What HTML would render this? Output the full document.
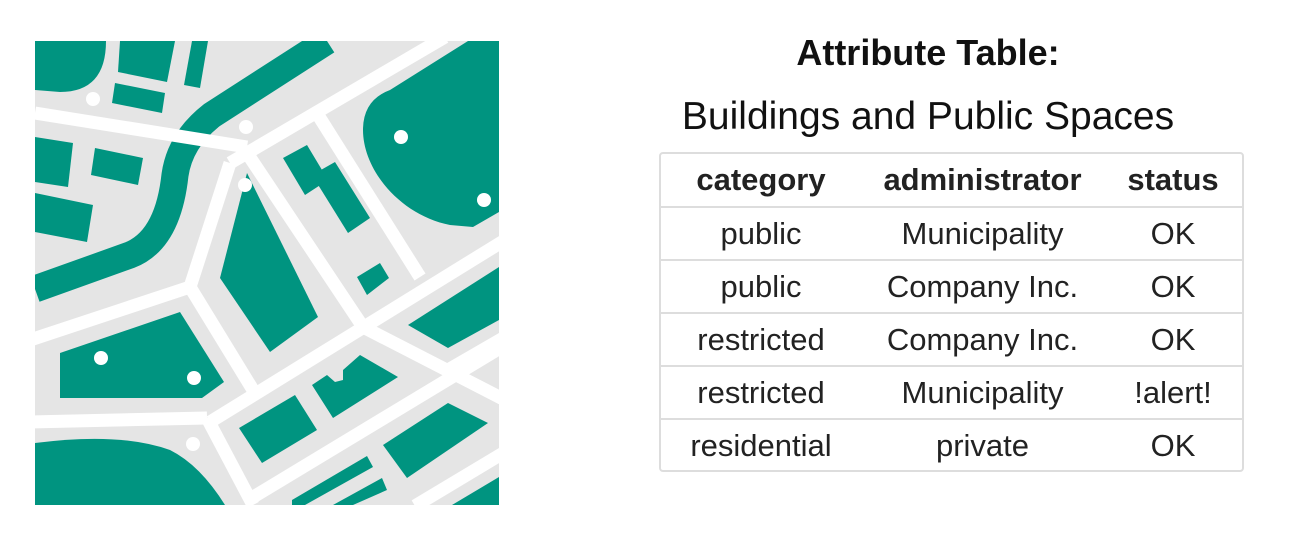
<!DOCTYPE html>
<html><head><meta charset="utf-8"><style>
body{margin:0;width:1295px;height:549px;background:#fff;overflow:hidden;position:relative;font-family:"Liberation Sans",sans-serif;color:#222}
#title{position:absolute;left:660px;width:536px;top:32px;text-align:center;font-weight:bold;font-size:36px;color:#111}
#sub{position:absolute;left:600px;width:656px;top:95px;text-align:center;font-size:39px;color:#111}
#tbl{position:absolute;left:659px;top:152px;width:581px;height:316px;border:2px solid #ddd;border-radius:4px;box-sizing:content-box}
.row{height:53px;display:flex;border-top:2px solid #ddd;box-sizing:border-box;align-items:center;font-size:31px}
.row:first-child{border-top:none;height:52px;font-weight:bold}
.c1{width:200px;text-align:center}.c2{width:243px;text-align:center}.c3{width:138px;text-align:center}
</style></head><body>
<svg width="520" height="549" style="position:absolute;left:0;top:0">
<defs><clipPath id="cp"><rect x="35" y="41" width="464" height="464"/></clipPath></defs>
<g clip-path="url(#cp)">
<rect x="35" y="41" width="464" height="464" fill="#e5e5e5"/>
<path d="M327,41 L212,115 Q180,140 175,175 Q168,240 130,255 L35,289" fill="none" stroke="#009480" stroke-width="27"/>
<g stroke="#fff" stroke-width="13" fill="none">
<line x1="35" y1="113" x2="247" y2="147"/>
<line x1="230" y1="163" x2="445" y2="37"/>
<line x1="230" y1="163" x2="190" y2="287"/>
<line x1="30" y1="340" x2="190" y2="287"/>
<line x1="190" y1="287" x2="253" y2="390"/>
<line x1="245" y1="150" x2="363" y2="327"/>
<line x1="318" y1="115" x2="420" y2="277"/>
<line x1="210" y1="422" x2="505" y2="240"/>
<line x1="30" y1="422" x2="207" y2="418"/>
<line x1="207" y1="418" x2="253" y2="505"/>
<line x1="363" y1="327" x2="505" y2="400"/>
<line x1="245" y1="502" x2="505" y2="345"/>
<line x1="415" y1="506" x2="505" y2="452"/>
<line x1="448" y1="370" x2="505" y2="337"/>
</g>
<g fill="#009480">
<path d="M35,41 H106 Q106,92 60,92 L35,90 Z"/>
<polygon points="120,41 118,72 167,82 175,41"/>
<polygon points="192,41 208,41 200,88 184,85"/>
<polygon points="115,83 165,93 162,113 112,103"/>
<polygon points="35,137 73,143 68,187 35,182"/>
<polygon points="95,148 143,158 138,185 91,175"/>
<polygon points="35,193 93,205 87,242 35,232"/>
<path d="M390,90 L468,41 H499 V212 L473,227 L450,225 C400,215 363,170 363,130 Q363,100 390,90 Z"/>
<polygon points="283,158 307,145 328,180 305,195"/>
<polygon points="312,175 335,162 370,218 348,233"/>
<polygon points="357,277 380,263 389,278 367,295"/>
<polygon points="247,173 318,317 270,352 220,278"/>
<polygon points="408,325 499,267 499,320 448,348"/>
<polygon points="60,353 180,312 224,382 202,398 60,398"/>
<polygon points="239,428 295,395 317,430 262,463"/>
<polygon points="312,385 327,375 335,382 343,380 343,370 360,355 398,377 333,418"/>
<polygon points="383,445 448,403 488,423 407,478"/>
<polygon points="292,500 367,456 373,467 305,505 292,505"/>
<polygon points="333,505 382,478 387,490 353,505"/>
<polygon points="452,505 499,477 499,505"/>
<path d="M35,443 Q120,432 170,450 Q200,465 225,505 H35 Z"/>
</g>
<g fill="#fff">
<circle cx="93" cy="99" r="7"/><circle cx="246" cy="127" r="7"/><circle cx="245" cy="185" r="7"/>
<circle cx="401" cy="137" r="7"/><circle cx="484" cy="200" r="7"/><circle cx="101" cy="358" r="7"/>
<circle cx="194" cy="378" r="7"/><circle cx="193" cy="444" r="7"/>
</g>
</g>
</svg>
<div id="title">Attribute Table:</div>
<div id="sub">Buildings and Public Spaces</div>
<div id="tbl">
<div class="row"><div class="c1">category</div><div class="c2">administrator</div><div class="c3">status</div></div>
<div class="row"><div class="c1">public</div><div class="c2">Municipality</div><div class="c3">OK</div></div>
<div class="row"><div class="c1">public</div><div class="c2">Company Inc.</div><div class="c3">OK</div></div>
<div class="row"><div class="c1">restricted</div><div class="c2">Company Inc.</div><div class="c3">OK</div></div>
<div class="row"><div class="c1">restricted</div><div class="c2">Municipality</div><div class="c3">!alert!</div></div>
<div class="row"><div class="c1">residential</div><div class="c2">private</div><div class="c3">OK</div></div>
</div>
</body></html>
